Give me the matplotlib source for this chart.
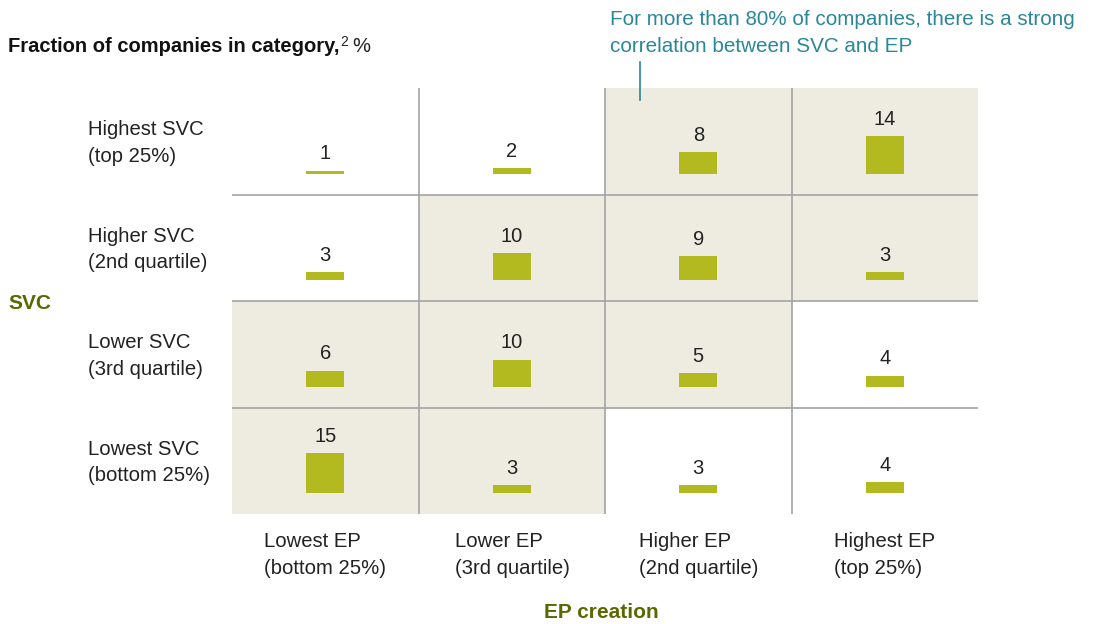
import matplotlib.pyplot as plt
import numpy as np

plt.rcParams['font.family'] = ['Liberation Sans', 'DejaVu Sans']

# data
svc_labels = ["Highest SVC\n(top 25%)", "Higher SVC\n(2nd quartile)",
              "Lower SVC\n(3rd quartile)", "Lowest SVC\n(bottom 25%)"]
ep_labels = ["Lowest EP\n(bottom 25%)", "Lower EP\n(3rd quartile)",
             "Higher EP\n(2nd quartile)", "Highest EP\n(top 25%)"]
# rows: SVC top->bottom, cols: EP lowest->highest
fractions = [[1, 2, 8, 14],
             [3, 10, 9, 3],
             [6, 10, 5, 4],
             [15, 3, 3, 4]]
shaded = [[0, 0, 1, 1],
          [0, 1, 1, 1],
          [1, 1, 1, 0],
          [1, 1, 0, 0]]

bar_col = '#B3BA1F'
bg_col = '#EEEBE0'
grid_col = '#A3A3A3'
teal = '#2A8799'
olive = '#5A6800'
txt = '#222222'

fig = plt.figure(figsize=(10.94, 6.24), dpi=100)
W, H = 1094, 624
ax = fig.add_axes([232 / W, 1 - 514 / H, (978 - 232) / W, (514 - 88) / H])
ax.set_xlim(0, 4)
ax.set_ylim(0, 4)
ax.axis('off')

unit = 0.025     # row height per percentage point
base = 0.197
bw = 0.204

for r in range(4):
    y0 = 3 - r
    for c in range(4):
        if shaded[r][c]:
            ax.add_patch(plt.Rectangle((c, y0), 1, 1, color=bg_col, lw=0, zorder=0))
        v = fractions[r][c]
        ax.bar(c + 0.5, v * unit, bottom=y0 + base, width=bw, color=bar_col, zorder=2)
        ax.text(c + 0.5, y0 + base + v * unit + 0.07, str(v), ha='center', va='bottom',
                fontsize=14.5, color=txt)

for y in [1, 2, 3]:
    ax.plot([0, 4], [y, y], color=grid_col, lw=1.2, zorder=1)
for x in [1, 2, 3]:
    ax.plot([x, x], [0, 4], color=grid_col, lw=1.2, zorder=1)

for r, lab in enumerate(svc_labels):
    fig.text(88 / W, 1 - (143 + r * 106.5) / H, lab, ha='left', va='center',
             fontsize=14.6, color=txt, linespacing=1.53)
for c, lab in enumerate(ep_labels):
    fig.text((325.5 + c * 186.5) / W, 1 - 555 / H, lab, ha='center', va='center',
             multialignment='left', fontsize=14.6, color=txt, linespacing=1.53)

t = fig.text(8 / W, 1 - 47 / H, "Fraction of companies in category,", ha='left',
             va='center', fontsize=14.5, fontweight='bold', color='#111111')
fig.canvas.draw()
bb = t.get_window_extent()
x_end = bb.x1 / W
fig.text(x_end + 1 / W, 1 - 42 / H, "2", ha='left', va='center', fontsize=10, color=txt)
fig.text(x_end + 13 / W, 1 - 47 / H, "%", ha='left', va='center', fontsize=14.5, color=txt)

fig.text(8 / W, 1 - 303 / H, "SVC", ha='left', va='center', fontsize=15,
         fontweight='bold', color=olive)
fig.text(601 / W, 1 - 613 / H, "EP creation", ha='center', va='center', fontsize=15,
         fontweight='bold', color=olive)

fig.text(610 / W, 1 - 33 / H, "For more than 80% of companies, there is a strong\ncorrelation between SVC and EP",
         ha='left', va='center', fontsize=14.9, color=teal, linespacing=1.53)
fig.add_artist(plt.Line2D([640 / W, 640 / W], [1 - 62 / H, 1 - 100 / H], color=teal, lw=1.2))

fig.savefig('out.png', dpi=100)
